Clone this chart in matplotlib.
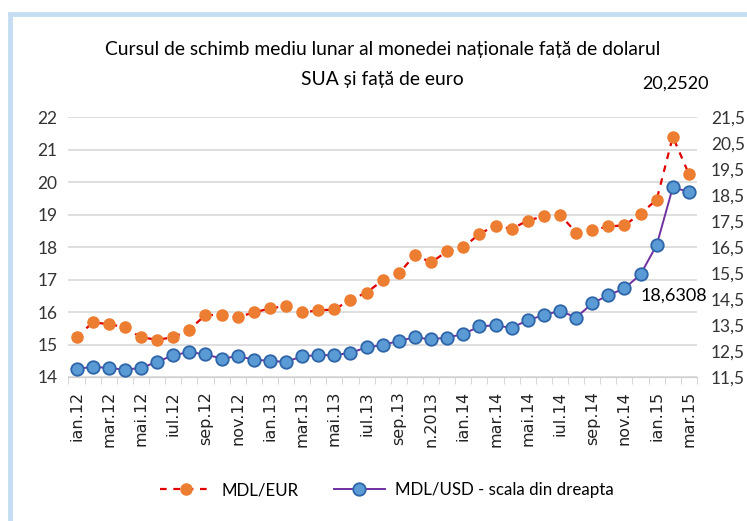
import matplotlib.pyplot as plt
import matplotlib.patches as mpatches
from matplotlib.ticker import FixedLocator, FuncFormatter
import numpy as np

# monthly averages, ian.2012 - mar.2015
eur = [15.22, 15.68, 15.63, 15.53, 15.22, 15.15, 15.22, 15.46, 15.91, 15.91,
       15.84, 15.99, 16.11, 16.19, 15.99, 16.05, 16.08, 16.38, 16.60, 16.98,
       17.19, 17.76, 17.53, 17.87, 17.99, 18.41, 18.66, 18.56, 18.82, 18.95,
       19.00, 18.45, 18.52, 18.64, 18.67, 19.03, 19.46, 21.40, 20.2520]
usd = [11.81, 11.89, 11.85, 11.78, 11.85, 12.08, 12.34, 12.46, 12.37, 12.21,
       12.30, 12.17, 12.12, 12.08, 12.30, 12.34, 12.34, 12.43, 12.64, 12.73,
       12.89, 13.03, 12.95, 13.02, 13.15, 13.45, 13.49, 13.39, 13.69, 13.88,
       14.05, 13.79, 14.33, 14.65, 14.91, 15.45, 16.58, 18.80, 18.6308]
tick_labels = ['ian.12', 'mar.12', 'mai.12', 'iul.12', 'sep.12', 'nov.12',
               'ian.13', 'mar.13', 'mai.13', 'iul.13', 'sep.13', 'n.2013',
               'ian.14', 'mar.14', 'mai.14', 'iul.14', 'sep.14', 'nov.14',
               'ian.15', 'mar.15']

txt_font = ['Lato', 'DejaVu Sans']
comma = lambda v, p: f'{v:.1f}'.replace('.', ',')

fig = plt.figure(figsize=(7.47, 5.21), dpi=100)

# light blue chart frame
fig.patches.append(mpatches.Rectangle((10 / 747, -0.1), 1.2, 1 - 14 / 521 + 0.1,
                                      transform=fig.transFigure, fill=False,
                                      edgecolor='#C5DDF2', linewidth=3.5))

ax = fig.add_axes([0.0917, 0.2764, 0.8413, 0.4985])
ax2 = ax.twinx()

x = np.arange(len(eur))
ax.plot(x, eur, color='#E00000', linestyle=(0, (3, 3)), linewidth=1.6,
        marker='o', markersize=8, markerfacecolor='#ED7D31',
        markeredgecolor='#ED7D31', label='MDL/EUR', zorder=3)
ax2.plot(x, usd, color='#7030A0', linewidth=1.4, marker='o', markersize=9,
         markerfacecolor='#5B9BD5', markeredgecolor='#2E64A8',
         markeredgewidth=1.3, label='MDL/USD - scala din dreapta', zorder=3)

ax.set_xlim(-0.5, len(eur) - 0.5)
ax.set_ylim(14, 22)
ax2.set_ylim(11.5, 21.5)
ax.set_yticks(range(14, 23))
ax2.yaxis.set_major_locator(FixedLocator(np.arange(11.5, 21.6, 1.0)))
ax2.yaxis.set_major_formatter(FuncFormatter(comma))

ax.set_xticks(x[::2])
ax.set_xticklabels(tick_labels, rotation=90, fontsize=11.5, color='#222222')
ax.set_xticks(np.arange(-0.5, len(eur), 1.0), minor=True)
ax.tick_params(axis='x', which='major', length=0, pad=10)
ax.tick_params(axis='x', which='minor', length=5, color='#D0D0D0')

ax.grid(axis='y', color='#D9D9D9', linewidth=1.2)
ax.set_axisbelow(True)
for a in (ax, ax2):
    for s in ('top', 'left', 'right'):
        a.spines[s].set_visible(False)
    a.spines['bottom'].set_color('#D0D0D0')
ax.tick_params(axis='y', length=0, labelsize=12.5, pad=8, labelcolor='#333333')
ax2.tick_params(axis='y', length=0, labelsize=12.5, pad=10, labelcolor='#333333')
for lab in ax.get_yticklabels() + ax2.get_yticklabels():
    lab.set_family(txt_font)

fig.text(0.512, 1 - 50 / 521, 'Cursul de schimb mediu lunar al monedei naționale față de dolarul',
         ha='center', va='center', fontsize=13.9, family=txt_font)
fig.text(0.512, 1 - 79 / 521, 'SUA și față de euro',
         ha='center', va='center', fontsize=13.9, family=txt_font)

ax.annotate('20,2520', (x[-1], eur[-1]), xytext=(-9.5, 65), textcoords='offset points',
            ha='center', va='center', fontsize=13, family=txt_font)
ax2.annotate('18,6308', (x[-1], usd[-1]), xytext=(-11, -75), textcoords='offset points',
             ha='center', va='center', fontsize=13, family=txt_font)

h1, l1 = ax.get_legend_handles_labels()
h2, l2 = ax2.get_legend_handles_labels()
fig.legend(h1 + h2, l1 + l2, loc='center', bbox_to_anchor=(387 / 747, 1 - 490 / 521),
           ncol=2, frameon=False, prop={'family': txt_font, 'size': 12.2},
           handlelength=3.0, handletextpad=0.6, columnspacing=2.1)

fig.savefig('out.png', dpi=100)
